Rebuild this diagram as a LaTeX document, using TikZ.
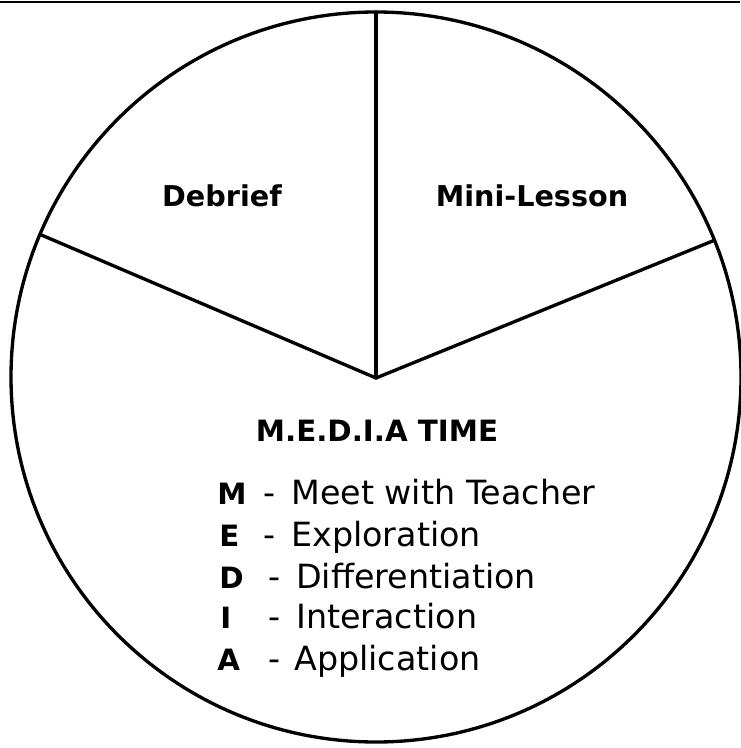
\documentclass[tikz,border=0pt]{standalone}
\usepackage{fontspec}
\setmainfont{DejaVu Sans}
\usepackage{tikz}
\usetikzlibrary{positioning}
\definecolor{inkblack}{RGB}{0,0,0}
\tikzset{
  dial/.style={
    draw=inkblack,
    circle,
    line width=2.5pt,
    inner sep=0pt,
    outer sep=0pt,
    minimum size=730*0.75pt
  },
  spoke/.style={line width=2.5pt, draw=inkblack, line cap=round},
  rule/.style={line width=1.6pt, draw=inkblack},
  sector/.style={font=\fontsize{21.5}{25}\selectfont\bfseries, text=inkblack, inner sep=0pt},
  heading/.style={font=\fontsize{22}{26}\selectfont\bfseries, text=inkblack, inner sep=0pt},
  letter/.style={font=\fontsize{22}{26}\selectfont\bfseries, text=inkblack, anchor=base west, inner sep=0pt},
  entry/.style={font=\fontsize{25}{29}\selectfont, text=inkblack, anchor=base west, inner sep=0pt}
}
\begin{document}
\begin{tikzpicture}[x=0.75pt,y=-0.75pt]
    \useasboundingbox (0,0) rectangle (740,748);
    \draw[rule] (0,2) -- (740,2);
    \node[dial] (wheel) at (376,377) {};
    \coordinate (hub) at (376,378);

    \draw[spoke] (hub) -- (wheel.90);
    \draw[spoke] (hub) -- (wheel.22.3);
    \draw[spoke] (hub) -- (wheel.157.7);

    \node[sector] (debrief) at (222,196) {Debrief};
    \node[sector] (minilesson) at (532,196) {Mini-Lesson};
    \node[heading] (mediatime) at (377,431) {M.E.D.I.A TIME};

    \foreach \row/\ltr/\lx/\dx/\word/\wx/\ypos in {m/M/217/263/Meet with Teacher/291/504,
        e/E/219/263/Exploration/291/546, d/D/219/268/Differentiation/296/588,
        i/I/220/268/Interaction/296/628, a/A/217/268/Application/294/670}{
      \node[letter] (let\row) at (\lx,\ypos) {\ltr};
      \node[entry] (dash\row) at (\dx,\ypos) {-};
      \node[entry] (word\row) at (\wx,\ypos) {\word};
    }
  \end{tikzpicture}
\end{document}
